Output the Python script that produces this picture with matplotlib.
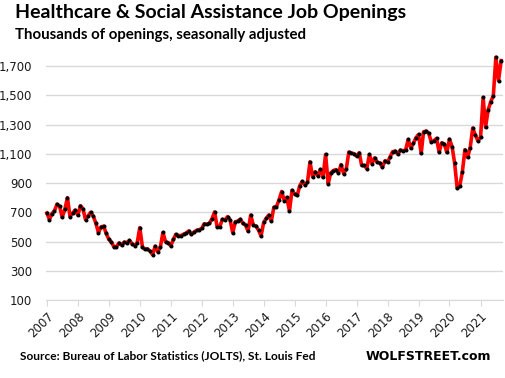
import numpy as np
import pandas as pd
import matplotlib
matplotlib.use("Agg")
import matplotlib.pyplot as plt
import matplotlib.dates as mdates

# Job openings, thousands, monthly from Jan 2007
y2007 = [695, 650, 690, 710, 755, 740, 665, 720, 800, 670, 695, 715]
y2008 = [680, 745, 725, 650, 675, 700, 675, 625, 560, 600, 605, 555]
y2009 = [515, 495, 465, 465, 490, 475, 495, 493, 507, 486, 472, 490]
y2010 = [595, 463, 447, 450, 435, 410, 468, 430, 463, 562, 498, 493]
y2011 = [470, 514, 548, 540, 541, 550, 558, 572, 548, 564, 576, 580]
y2012 = [590, 622, 617, 625, 655, 702, 601, 601, 652, 647, 670, 647]
y2013 = [560, 635, 640, 652, 624, 612, 571, 681, 612, 606, 578, 537]
y2014 = [631, 658, 681, 640, 734, 739, 785, 842, 780, 801, 709, 850]
y2015 = [824, 815, 880, 911, 888, 904, 1045, 942, 977, 950, 993, 938]
y2016 = [1095, 895, 969, 985, 992, 969, 1026, 964, 997, 1111, 1105, 1100]
y2017 = [1084, 1107, 1020, 1020, 999, 1095, 1033, 1072, 1042, 1038, 1007, 1052]
y2018 = [1043, 1080, 1114, 1118, 1098, 1125, 1121, 1125, 1198, 1139, 1171, 1209]
y2019 = [1232, 1102, 1250, 1255, 1239, 1180, 1189, 1205, 1111, 1175, 1166, 1109]
y2020 = [1200, 1148, 1038, 863, 879, 977, 1128, 1075, 1141, 1276, 1228, 1188]
y2021 = [1212, 1485, 1281, 1400, 1455, 1497, 1760, 1600, 1737]

values = (y2007 + y2008 + y2009 + y2010 + y2011 + y2012 + y2013 + y2014
          + y2015 + y2016 + y2017 + y2018 + y2019 + y2020 + y2021)
dates = pd.date_range("2007-01-01", periods=len(values), freq="MS")

y_ticks = [100, 300, 500, 700, 900, 1100, 1300, 1500, 1700]
years = list(range(2007, 2022))

fig = plt.figure(figsize=(5.06, 3.78), dpi=100)
ax = fig.add_axes([0.0909, 0.2063, 0.903, 0.65])

ax.plot(dates, values, color="#ff0000", linewidth=2.6, zorder=3, clip_on=False)
ax.plot(dates, values, linestyle="none", marker="o", markersize=1.9,
        color="black", zorder=4, clip_on=False)

ax.set_ylim(100, 1780)
ax.set_yticks(y_ticks)
ax.set_yticklabels([f"{v:,}" for v in y_ticks], fontsize=8.5, color="#1a1a1a")
ax.tick_params(axis="y", length=0, pad=10)
ax.grid(axis="y", color="#d9d9d9", linewidth=1)
ax.set_axisbelow(True)

ax.set_xlim(pd.Timestamp("2006-12-22"), pd.Timestamp("2021-09-22"))
ax.set_xticks([pd.Timestamp(f"{y}-01-01") for y in years])
ax.set_xticklabels([str(y) for y in years], rotation=45, ha="right",
                   rotation_mode="anchor", fontsize=8.5, color="#1a1a1a")
ax.tick_params(axis="x", length=4, color="#d9d9d9", pad=3)

for s in ["top", "right", "left"]:
    ax.spines[s].set_visible(False)
ax.spines["bottom"].set_color("#d9d9d9")

fig.text(0.03, 0.967, "Healthcare & Social Assistance Job Openings",
         fontsize=14, fontweight="bold", family="Lato", va="center")
fig.text(0.03, 0.907, "Thousands of openings, seasonally adjusted",
         fontsize=10.8, fontweight="bold", family="Lato", va="center")
fig.text(0.04, 0.058, "Source: Bureau of Labor Statistics (JOLTS), St. Louis Fed",
         fontsize=8.6, fontweight="bold", family="Lato", va="center")
fig.text(0.722, 0.058, "WOLFSTREET.com", fontsize=9.0, fontweight="bold",
         family="DejaVu Sans", va="center")

fig.savefig("out.png", dpi=100)
